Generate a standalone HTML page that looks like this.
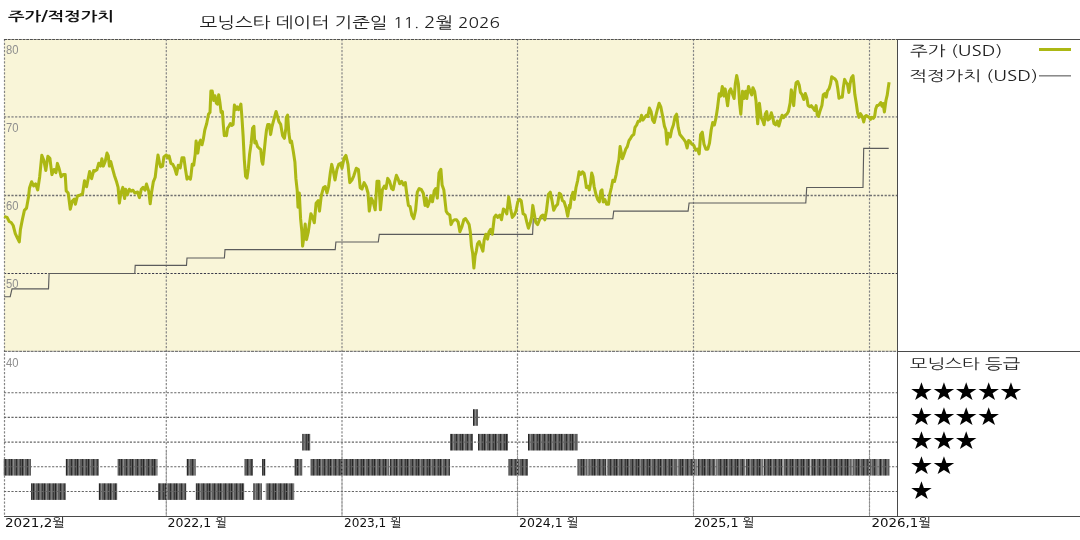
<!DOCTYPE html><html><head><meta charset="utf-8"><style>
html,body{margin:0;padding:0;background:#fff;width:1080px;height:540px;overflow:hidden}
svg{display:block}
text{font-family:"Liberation Sans","NanumGothic","Noto Sans CJK KR",sans-serif}
.k{font-family:"NanumGothic","Noto Sans CJK KR",sans-serif}
.s{font-family:"DejaVu Sans",sans-serif}
</style></head><body>
<svg width="1080" height="540" viewBox="0 0 1080 540">
<defs><pattern id="bp" width="11" height="20" patternUnits="userSpaceOnUse"><rect width="11" height="20" fill="#5e5e5e"/><rect x="0" width="1" height="20" fill="#262626"/><rect x="2" width="1" height="20" fill="#8a8a8a"/><rect x="5" width="1" height="20" fill="#2e2e2e"/><rect x="7" width="1" height="20" fill="#7a7a7a"/><rect x="9" width="1" height="20" fill="#3a3a3a"/></pattern></defs>
<text class="k" x="8" y="20.8" font-size="13" fill="#111" textLength="106" lengthAdjust="spacingAndGlyphs" font-weight="bold">주가/적정가치</text>
<text class="k" x="199.5" y="27.6" font-size="15.3" fill="#222" textLength="300.5" lengthAdjust="spacingAndGlyphs">모닝스타 데이터 기준일 <tspan font-size="14">11. </tspan>2월<tspan font-size="14"> 2026</tspan></text>
<rect x="4" y="39" width="893" height="312" fill="#f9f5d8"/>
<line x1="4" y1="116.9" x2="897" y2="116.9" stroke="#a09f98" stroke-width="1.8" stroke-dasharray="2.2 1.5"/>
<line x1="4" y1="195.5" x2="897" y2="195.5" stroke="#707070" stroke-width="1.3" stroke-dasharray="2.2 1.5"/>
<line x1="4" y1="273.5" x2="897" y2="273.5" stroke="#3a3a4a" stroke-width="1.1" stroke-dasharray="2.2 1.5"/>
<line x1="4.5" y1="39" x2="4.5" y2="516" stroke="#858585" stroke-width="1.2" stroke-dasharray="2.2 1.5"/>
<line x1="166.3" y1="39" x2="166.3" y2="516" stroke="#858585" stroke-width="1.2" stroke-dasharray="2.2 1.5"/>
<line x1="342.0" y1="39" x2="342.0" y2="516" stroke="#858585" stroke-width="1.2" stroke-dasharray="2.2 1.5"/>
<line x1="517.5" y1="39" x2="517.5" y2="516" stroke="#858585" stroke-width="1.2" stroke-dasharray="2.2 1.5"/>
<line x1="693.5" y1="39" x2="693.5" y2="516" stroke="#858585" stroke-width="1.2" stroke-dasharray="2.2 1.5"/>
<line x1="869.5" y1="39" x2="869.5" y2="516" stroke="#858585" stroke-width="1.2" stroke-dasharray="2.2 1.5"/>
<line x1="4" y1="39.5" x2="897" y2="39.5" stroke="#505050" stroke-width="1" stroke-dasharray="3 0.7"/>
<line x1="4" y1="351.3" x2="897" y2="351.3" stroke="#555" stroke-width="1" stroke-dasharray="3 0.8"/>
<line x1="897" y1="39.5" x2="1080" y2="39.5" stroke="#4a4a4a" stroke-width="1"/>
<line x1="897" y1="351.5" x2="1080" y2="351.5" stroke="#4a4a4a" stroke-width="1"/>
<line x1="897.5" y1="39" x2="897.5" y2="517" stroke="#4a4a4a" stroke-width="1"/>
<line x1="4" y1="516.5" x2="1080" y2="516.5" stroke="#4a4a4a" stroke-width="1"/>
<text x="6" y="54.3" font-size="12.5" fill="#8e8e8e" textLength="12.5" lengthAdjust="spacingAndGlyphs">80</text>
<text x="6" y="132.3" font-size="12.5" fill="#8e8e8e" textLength="12.5" lengthAdjust="spacingAndGlyphs">70</text>
<text x="6" y="210.3" font-size="12.5" fill="#8e8e8e" textLength="12.5" lengthAdjust="spacingAndGlyphs">60</text>
<text x="6" y="288.3" font-size="12.5" fill="#8e8e8e" textLength="12.5" lengthAdjust="spacingAndGlyphs">50</text>
<text x="6" y="367.3" font-size="12.5" fill="#8e8e8e" textLength="12.5" lengthAdjust="spacingAndGlyphs">40</text>
<rect x="473.0" y="409.2" width="5.0" height="16.6" fill="url(#bp)"/>
<rect x="302.2" y="433.9" width="8.1" height="16.6" fill="url(#bp)"/>
<rect x="450.0" y="433.9" width="23.0" height="16.6" fill="url(#bp)"/>
<rect x="478.0" y="433.9" width="30.0" height="16.6" fill="url(#bp)"/>
<rect x="528.0" y="433.9" width="49.5" height="16.6" fill="url(#bp)"/>
<rect x="3.7" y="459.0" width="27.3" height="16.6" fill="url(#bp)"/>
<rect x="65.8" y="459.0" width="33.0" height="16.6" fill="url(#bp)"/>
<rect x="117.5" y="459.0" width="40.0" height="16.6" fill="url(#bp)"/>
<rect x="186.7" y="459.0" width="9.1" height="16.6" fill="url(#bp)"/>
<rect x="244.2" y="459.0" width="8.8" height="16.6" fill="url(#bp)"/>
<rect x="262.0" y="459.0" width="3.3" height="16.6" fill="url(#bp)"/>
<rect x="294.5" y="459.0" width="7.7" height="16.6" fill="url(#bp)"/>
<rect x="310.3" y="459.0" width="139.7" height="16.6" fill="url(#bp)"/>
<rect x="508.0" y="459.0" width="20.0" height="16.6" fill="url(#bp)"/>
<rect x="577.5" y="459.0" width="311.9" height="16.6" fill="url(#bp)"/>
<rect x="31.0" y="483.3" width="34.8" height="16.6" fill="url(#bp)"/>
<rect x="98.8" y="483.3" width="18.4" height="16.6" fill="url(#bp)"/>
<rect x="158.0" y="483.3" width="28.2" height="16.6" fill="url(#bp)"/>
<rect x="195.8" y="483.3" width="48.4" height="16.6" fill="url(#bp)"/>
<rect x="253.3" y="483.3" width="8.7" height="16.6" fill="url(#bp)"/>
<rect x="265.8" y="483.3" width="28.4" height="16.6" fill="url(#bp)"/>
<rect x="388.9" y="459" width="1" height="16.6" fill="#d0d0d0"/>
<rect x="587.5" y="459" width="1" height="16.6" fill="#d0d0d0"/>
<rect x="605.9" y="459" width="1" height="16.6" fill="#d0d0d0"/>
<rect x="676.7" y="459" width="1" height="16.6" fill="#d0d0d0"/>
<rect x="696.7" y="459" width="1" height="16.6" fill="#d0d0d0"/>
<rect x="715.2" y="459" width="1" height="16.6" fill="#d0d0d0"/>
<rect x="745.1" y="459" width="1" height="16.6" fill="#d0d0d0"/>
<rect x="762.8" y="459" width="1" height="16.6" fill="#d0d0d0"/>
<rect x="782.5" y="459" width="1" height="16.6" fill="#d0d0d0"/>
<rect x="810.2" y="459" width="1" height="16.6" fill="#d0d0d0"/>
<rect x="851.7" y="459" width="1" height="16.6" fill="#d0d0d0"/>
<rect x="877.6" y="459" width="1" height="16.6" fill="#d0d0d0"/>
<line x1="4" y1="392.7" x2="897" y2="392.7" stroke="#666" stroke-width="1.1" stroke-dasharray="2.2 1.5"/>
<line x1="4" y1="417.4" x2="897" y2="417.4" stroke="#666" stroke-width="1.1" stroke-dasharray="2.2 1.5"/>
<line x1="4" y1="442.1" x2="897" y2="442.1" stroke="#666" stroke-width="1.1" stroke-dasharray="2.2 1.5"/>
<line x1="4" y1="466.8" x2="897" y2="466.8" stroke="#666" stroke-width="1.1" stroke-dasharray="2.2 1.5"/>
<line x1="4" y1="491.5" x2="897" y2="491.5" stroke="#666" stroke-width="1.1" stroke-dasharray="2.2 1.5"/>
<line x1="166.3" y1="452" x2="166.3" y2="516" stroke="#9a9a9a" stroke-width="1.0" stroke-dasharray="2.2 1.5"/>
<line x1="342.0" y1="452" x2="342.0" y2="516" stroke="#9a9a9a" stroke-width="1.0" stroke-dasharray="2.2 1.5"/>
<line x1="517.5" y1="452" x2="517.5" y2="516" stroke="#9a9a9a" stroke-width="1.0" stroke-dasharray="2.2 1.5"/>
<line x1="693.5" y1="452" x2="693.5" y2="516" stroke="#9a9a9a" stroke-width="1.0" stroke-dasharray="2.2 1.5"/>
<line x1="869.5" y1="452" x2="869.5" y2="516" stroke="#9a9a9a" stroke-width="1.0" stroke-dasharray="2.2 1.5"/>
<polyline points="4.0,296.7 10.2,296.7 12.0,288.8 48.5,288.8 49.1,273.5 134.8,273.5 135.2,265.4 186.5,265.4 187.0,258.0 224.4,258.0 225.0,249.6 335.2,249.6 335.9,242.0 378.3,242.0 379.3,234.4 532.6,234.4 533.3,218.7 612.8,218.7 613.7,211.1 688.1,211.1 689.1,203.0 805.8,203.0 806.7,187.5 863.0,187.5 863.7,148.3 888.7,148.3" fill="none" stroke="#5c5c5c" stroke-width="1.15"/>
<polyline points="4.1,216.4 7.1,217.4 9.2,221.5 11.2,222.5 13.2,225.5 15.3,233.7 17.3,237.8 19.3,241.8 20.4,229.6 22.4,219.4 24.4,210.3 26.5,208.2 28.5,197.0 29.5,187.9 31.6,181.8 33.6,185.8 35.6,183.8 37.7,189.9 39.7,176.7 41.8,155.3 43.8,160.4 45.8,170.5 47.9,156.3 49.9,158.3 51.9,174.6 54.0,169.5 56.0,172.6 57.4,163.4 59.1,168.5 61.1,176.7 63.1,174.6 65.2,174.6 66.2,190.9 68.2,193.0 70.3,209.2 72.3,201.1 74.3,199.1 75.4,204.2 77.4,196.0 80.4,195.0 82.5,194.0 84.5,180.7 86.6,186.8 89.6,171.6 91.6,178.7 93.7,170.5 95.0,171.1 96.9,169.8 98.7,163.3 100.6,166.1 101.9,158.7 103.3,166.1 105.2,161.5 107.0,153.1 108.3,155.9 109.4,166.1 110.7,161.5 112.6,168.9 114.4,175.4 116.3,180.9 118.1,187.4 119.4,203.1 120.9,193.0 122.8,187.4 124.6,198.5 125.6,189.3 127.4,194.8 129.3,189.3 131.1,191.1 133.0,190.2 134.8,193.0 137.6,192.0 139.4,197.6 141.3,189.3 143.1,187.4 145.0,190.2 146.5,184.1 148.7,191.1 150.2,203.7 151.5,193.0 153.3,181.9 155.2,177.2 156.5,166.1 158.0,155.0 159.4,162.4 160.7,167.0 162.6,166.1 163.9,156.9 166.3,155.0 167.8,157.8 169.1,155.9 170.9,163.3 172.8,164.3 174.6,168.0 176.5,174.4 178.3,165.2 180.2,168.0 182.0,157.8 183.9,157.8 185.4,168.9 187.0,179.1 188.5,177.2 190.4,179.1 190.9,176.3 192.2,164.3 193.7,165.2 195.2,154.1 196.1,141.1 197.8,153.1 199.3,143.0 200.6,140.2 202.0,144.8 203.3,139.3 204.8,130.0 206.7,123.5 208.5,114.3 210.0,112.4 210.9,91.1 212.2,91.1 213.7,100.4 215.0,95.7 216.3,103.1 217.4,104.1 218.7,94.8 220.0,103.1 221.1,112.4 222.4,111.5 223.3,124.4 224.3,135.6 225.6,133.7 226.5,135.6 227.6,128.1 228.9,126.3 230.4,123.5 231.7,125.4 233.1,124.4 234.4,105.0 235.9,109.6 237.2,106.9 238.5,109.6 239.6,107.8 240.9,104.1 241.9,117.0 243.1,135.6 244.3,159.6 245.6,176.3 247.0,178.1 248.3,168.9 249.6,154.1 251.1,143.9 252.6,128.1 253.9,126.3 254.8,143.0 255.9,141.1 257.6,146.7 259.4,148.5 260.7,149.4 261.9,161.5 262.8,164.3 264.1,152.2 265.4,139.3 266.5,130.0 267.8,124.4 269.3,124.4 270.6,134.6 271.9,127.2 273.3,121.7 274.8,116.1 276.1,111.5 277.4,116.1 278.9,121.7 280.7,124.4 282.6,135.6 284.4,138.3 285.9,128.1 286.3,117.8 287.6,115.2 288.9,133.3 290.2,142.4 291.5,141.1 293.3,151.5 294.9,161.9 295.9,178.7 297.2,190.4 298.0,207.2 299.3,193.0 300.6,218.9 301.9,231.9 302.6,246.1 303.9,237.0 305.2,224.1 306.5,239.6 308.3,231.9 310.9,213.7 312.7,217.6 314.3,222.8 316.1,203.3 318.2,200.7 319.5,211.1 321.3,195.6 323.4,187.8 325.2,186.5 327.0,193.0 328.6,186.5 330.4,172.2 331.7,164.4 333.5,172.2 335.0,180.0 336.9,169.6 338.7,164.4 340.7,163.2 342.0,168.3 344.1,158.0 345.9,155.4 348.0,164.4 349.8,182.6 351.9,180.0 353.7,176.1 356.3,168.3 358.4,169.6 360.2,187.8 362.0,189.1 364.1,182.6 366.2,186.5 368.0,193.0 369.3,211.1 371.3,198.2 373.2,202.0 375.2,209.8 377.0,181.3 378.9,181.3 380.4,209.8 382.4,189.7 384.3,186.1 386.0,188.5 387.7,178.4 389.6,181.3 391.6,188.5 393.2,189.7 394.9,181.3 396.4,175.3 398.1,178.9 399.7,183.7 401.7,181.3 403.4,184.9 405.3,182.5 407.0,195.7 408.4,205.4 410.1,206.6 411.8,215.0 413.7,218.6 415.6,210.2 417.3,192.1 419.2,188.5 421.4,189.7 423.3,193.3 425.0,205.4 426.2,198.1 427.7,206.6 429.4,201.8 431.0,195.7 432.5,201.8 434.2,190.9 435.9,188.5 437.3,198.1 439.0,172.9 440.9,169.3 442.1,184.9 443.8,189.7 445.0,200.6 446.2,211.4 447.9,213.8 449.8,215.0 451.0,224.6 452.7,221.0 454.6,219.8 456.6,219.8 458.2,222.2 459.9,231.8 461.8,227.0 463.8,219.8 465.5,218.6 467.1,221.0 469.1,224.6 470.3,231.8 471.5,246.3 472.7,253.5 473.9,268.0 475.1,255.9 476.3,251.1 477.5,243.9 479.2,241.5 481.5,247.5 482.9,251.1 484.1,240.3 485.8,234.3 487.5,239.1 489.0,231.8 490.6,229.4 492.3,234.3 494.3,217.4 495.9,215.0 497.9,217.4 499.8,215.0 501.5,219.8 503.4,209.0 505.1,210.2 506.8,213.8 508.7,196.9 510.6,209.0 512.3,217.4 514.2,215.0 515.9,211.4 517.8,201.8 519.5,199.3 521.2,200.6 523.1,213.8 525.1,215.0 526.8,222.2 528.4,228.2 530.4,222.2 531.6,217.4 532.8,205.4 534.0,212.6 535.7,222.2 537.6,224.6 539.5,219.8 541.2,216.2 542.9,215.0 544.8,219.8 546.5,210.2 548.4,194.5 550.3,192.1 552.0,200.6 553.7,210.2 555.6,206.6 557.6,204.2 559.3,193.3 560.9,194.5 562.4,200.6 564.1,201.8 566.0,207.8 567.7,216.2 569.4,205.4 570.0,208.0 571.2,198.3 572.9,192.3 574.3,199.5 576.0,187.5 577.7,180.3 579.1,171.8 580.8,174.3 582.5,171.8 584.0,173.1 585.2,179.1 586.4,187.5 588.1,186.3 589.3,189.9 590.5,183.9 591.7,173.1 592.9,176.7 594.1,186.3 596.0,194.7 597.7,199.5 599.4,201.9 600.8,191.1 602.0,189.9 603.2,201.9 604.9,199.5 606.6,204.3 608.5,204.3 609.7,194.7 611.4,187.5 612.8,180.3 614.5,181.5 616.2,174.3 617.4,167.0 618.9,159.8 620.1,146.6 621.3,152.6 622.5,158.6 624.2,153.8 625.8,149.0 627.3,146.6 629.0,140.6 630.7,138.1 632.1,135.7 633.8,134.5 635.0,127.3 636.7,124.9 638.1,121.3 639.8,121.3 641.5,115.3 642.9,120.1 644.6,117.7 646.3,115.3 647.8,116.5 649.4,108.1 651.1,111.7 652.6,120.1 654.3,122.5 655.9,115.3 657.4,109.3 659.1,103.2 660.8,106.9 662.7,116.5 664.4,126.1 665.8,129.7 667.0,144.2 668.2,133.3 670.3,137.0 671.7,129.8 673.4,125.0 675.1,116.6 676.6,114.2 678.2,127.4 679.9,134.6 681.9,137.0 683.8,139.4 685.5,141.8 687.1,147.9 688.6,140.6 690.3,141.8 692.0,144.3 693.9,145.5 695.6,150.3 697.5,149.1 699.2,153.9 700.6,134.6 702.3,132.2 704.0,144.3 705.9,149.1 707.8,149.1 709.5,143.1 711.2,129.8 712.7,122.6 714.4,125.0 716.0,117.8 717.5,108.1 719.2,93.7 720.8,96.1 722.3,86.5 724.0,96.1 725.2,88.9 726.4,97.3 727.6,105.7 729.3,91.3 730.7,88.9 732.4,93.7 734.1,98.5 735.3,84.1 736.7,75.6 738.4,84.1 739.6,103.3 740.8,114.2 742.5,91.3 744.0,98.5 745.6,91.3 746.8,98.5 748.5,86.5 750.0,91.3 751.7,94.9 752.9,87.7 754.6,91.3 756.0,100.9 757.7,123.8 759.4,103.3 761.2,117.6 762.9,121.2 764.1,124.8 765.3,114.0 766.7,111.6 767.9,120.0 769.6,118.8 771.3,112.8 772.8,117.6 774.0,123.6 775.6,124.8 777.3,121.2 778.8,126.0 780.5,120.0 782.1,115.2 783.6,117.6 785.3,115.2 787.0,114.0 788.4,111.6 790.1,103.1 791.3,89.9 792.5,95.9 793.7,105.6 794.9,91.1 796.1,82.7 797.8,81.5 799.2,85.1 800.4,92.3 802.1,94.7 803.8,99.5 805.3,93.5 806.9,98.3 808.1,105.6 809.8,106.8 811.3,105.6 813.0,108.0 814.6,110.4 816.1,105.6 817.3,115.2 818.5,116.4 820.2,110.4 821.9,105.6 823.3,94.7 825.0,93.5 826.2,97.1 827.4,91.1 829.1,88.7 830.5,83.9 831.7,76.7 833.4,77.9 835.1,79.1 836.6,81.5 837.8,88.7 839.0,98.3 840.6,97.1 842.3,97.1 843.3,87.8 844.6,79.4 845.9,82.2 847.4,84.1 848.9,92.4 850.2,83.1 851.5,77.6 853.0,75.7 853.9,84.1 854.8,94.3 856.3,103.5 857.6,112.8 858.9,117.4 860.4,113.7 861.7,115.6 862.8,118.3 863.7,122.0 865.0,116.5 866.3,115.6 867.8,116.5 869.3,117.4 870.6,119.3 871.9,117.4 873.3,118.3 874.6,116.5 875.7,109.1 877.0,105.4 878.3,105.4 879.4,104.4 880.7,102.6 882.0,106.3 883.1,103.5 884.4,111.9 885.9,100.7 887.2,95.2 888.1,88.7 889.1,82.2" fill="none" stroke="#acb814" stroke-width="3.05" stroke-linejoin="round"/>
<text x="5" y="527" font-size="12.5" fill="#111" style="font-family:'DejaVu Sans','NanumGothic',sans-serif" textLength="60" lengthAdjust="spacingAndGlyphs">2021,2월</text>
<text x="167.5" y="527" font-size="12.5" fill="#111" style="font-family:'DejaVu Sans','NanumGothic',sans-serif" textLength="59.5" lengthAdjust="spacingAndGlyphs">2022,1 월</text>
<text x="344" y="527" font-size="12.5" fill="#111" style="font-family:'DejaVu Sans','NanumGothic',sans-serif" textLength="57.5" lengthAdjust="spacingAndGlyphs">2023,1 월</text>
<text x="519" y="527" font-size="12.5" fill="#111" style="font-family:'DejaVu Sans','NanumGothic',sans-serif" textLength="59.5" lengthAdjust="spacingAndGlyphs">2024,1 월</text>
<text x="694" y="527" font-size="12.5" fill="#111" style="font-family:'DejaVu Sans','NanumGothic',sans-serif" textLength="60.5" lengthAdjust="spacingAndGlyphs">2025,1 월</text>
<text x="871.5" y="527" font-size="12.5" fill="#111" style="font-family:'DejaVu Sans','NanumGothic',sans-serif" textLength="59.5" lengthAdjust="spacingAndGlyphs">2026,1월</text>
<text class="k" x="910" y="56" font-size="14.2" fill="#222" textLength="92.5" lengthAdjust="spacingAndGlyphs">주가 (USD)</text>
<line x1="1039" y1="49.5" x2="1071" y2="49.5" stroke="#acb814" stroke-width="3"/>
<text class="k" x="909.5" y="80.6" font-size="14.2" fill="#222" textLength="128.5" lengthAdjust="spacingAndGlyphs">적정가치 (USD)</text>
<line x1="1039" y1="75.8" x2="1071" y2="75.8" stroke="#858585" stroke-width="1.5"/>
<text class="k" x="909.7" y="368.8" font-size="14.2" fill="#222" textLength="110.5" lengthAdjust="spacingAndGlyphs">모닝스타 등급</text>
<text class="s" transform="translate(909.5,400.2) scale(1.09,1)" font-size="24.5" fill="#000">★</text>
<text class="s" transform="translate(931.9,400.2) scale(1.09,1)" font-size="24.5" fill="#000">★</text>
<text class="s" transform="translate(954.3,400.2) scale(1.09,1)" font-size="24.5" fill="#000">★</text>
<text class="s" transform="translate(976.7,400.2) scale(1.09,1)" font-size="24.5" fill="#000">★</text>
<text class="s" transform="translate(999.1,400.2) scale(1.09,1)" font-size="24.5" fill="#000">★</text>
<text class="s" transform="translate(909.5,424.8) scale(1.09,1)" font-size="24.5" fill="#000">★</text>
<text class="s" transform="translate(931.9,424.8) scale(1.09,1)" font-size="24.5" fill="#000">★</text>
<text class="s" transform="translate(954.3,424.8) scale(1.09,1)" font-size="24.5" fill="#000">★</text>
<text class="s" transform="translate(976.7,424.8) scale(1.09,1)" font-size="24.5" fill="#000">★</text>
<text class="s" transform="translate(909.5,449.4) scale(1.09,1)" font-size="24.5" fill="#000">★</text>
<text class="s" transform="translate(931.9,449.4) scale(1.09,1)" font-size="24.5" fill="#000">★</text>
<text class="s" transform="translate(954.3,449.4) scale(1.09,1)" font-size="24.5" fill="#000">★</text>
<text class="s" transform="translate(909.5,474.0) scale(1.09,1)" font-size="24.5" fill="#000">★</text>
<text class="s" transform="translate(931.9,474.0) scale(1.09,1)" font-size="24.5" fill="#000">★</text>
<text class="s" transform="translate(909.5,498.6) scale(1.09,1)" font-size="24.5" fill="#000">★</text>
</svg></body></html>
